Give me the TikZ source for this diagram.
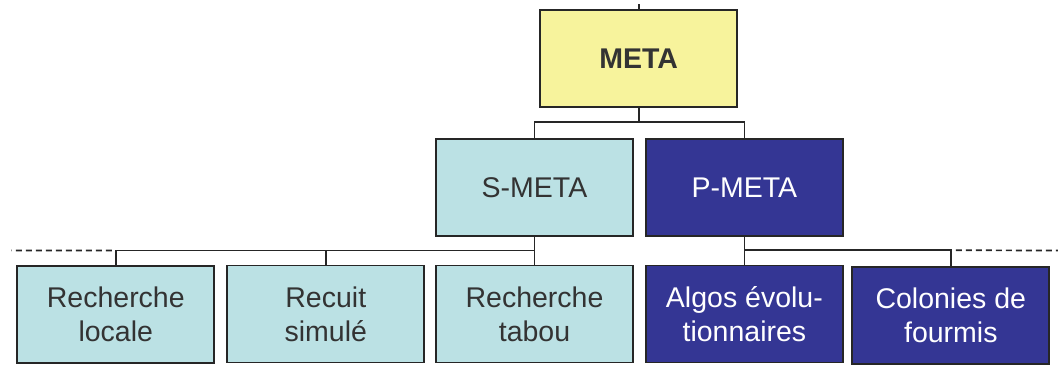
\documentclass[tikz,border=0pt]{standalone}
\usepackage{fontspec}
\usetikzlibrary{calc}
\setmainfont{Liberation Sans}
\definecolor{metayellow}{HTML}{F7F39C}
\definecolor{seqcyan}{HTML}{BBE1E4}
\definecolor{parblue}{HTML}{343694}
\definecolor{boxline}{HTML}{262626}
\definecolor{darktext}{HTML}{333333}
\begin{document}
\begin{tikzpicture}[x=1pt,y=-1pt,
  box/.style={draw=boxline,line width=1.9pt,minimum width=197pt,minimum height=97pt,
    inner sep=0pt,align=center,font=\fontsize{28.5}{34}\selectfont},
  topbox/.style={box,fill=metayellow,text=darktext,font=\fontsize{28.5}{34}\selectfont\bfseries},
  seq/.style={box,fill=seqcyan,text=darktext},
  par/.style={box,fill=parblue,text=white},
  link/.style={draw=boxline,line width=1.7pt},
  ext/.style={link,dash pattern=on 6pt off 4pt}]
\useasboundingbox (0,0) rectangle (1058,365);

% boxes
\node[topbox] (meta) at (638.7,58.3) {META};
\node[seq] (smeta) at (534.5,187.5) {S-META};
\node[par] (pmeta) at (744.4,187.3) {P-META};
\node[seq] (local) at (115.8,314.2) {Recherche\\locale};
\node[seq] (recuit) at (325.8,314) {Recuit\\simulé};
\node[seq] (tabou) at (534.5,314) {Recherche\\tabou};
\node[par] (algos) at (744.4,314) {Algos évolu-\\tionnaires};
\node[par] (fourmis) at (950.8,315.6) {Colonies de\\fourmis};

% connector entering the top box
\coordinate (above) at (638.7,4);
\draw[link] (above) -- (meta.north);

% META to its two branches
\coordinate (mbus) at ($(meta.south)+(0,14.5)$);
\draw[link] (meta.south) -- (mbus);
\draw[link] (mbus) -| (smeta.north);
\draw[link] (mbus) -| (pmeta.north);

% sequential branch
\coordinate (sbus) at ($(smeta.south)+(0,13.5)$);
\coordinate (sdash) at (11.5,250.5);
\draw[link] (smeta.south) -- (tabou.north);
\draw[link] (sbus) -| (local.north);
\draw[link] (sbus -| recuit.north) -- (recuit.north);
\draw[ext] (local.north |- sbus) ++(-4,0) -- (sdash);

% parallel branch
\coordinate (pbus) at ($(pmeta.south)+(0,13.5)$);
\coordinate (pdash) at (1058,250.5);
\draw[link] (pmeta.south) -- (algos.north);
\draw[link] (pbus) -| (fourmis.north);
\draw[ext] (fourmis.north |- pbus) ++(5,0) -- (pdash);
\end{tikzpicture}
\end{document}
